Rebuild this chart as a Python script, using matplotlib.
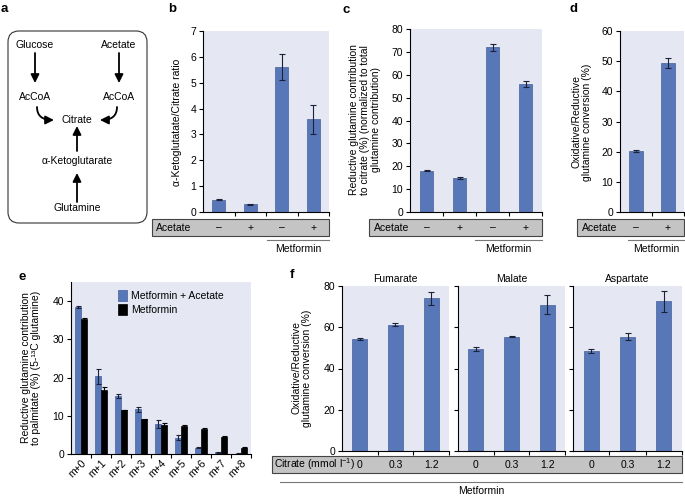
import numpy as np
import matplotlib
matplotlib.use("Agg")
import matplotlib.pyplot as plt
from matplotlib.patches import Rectangle, FancyBboxPatch
from matplotlib.transforms import blended_transform_factory

plt.rcParams['font.family'] = ['Liberation Sans', 'DejaVu Sans']
plt.rcParams['font.size'] = 7.5
plt.rcParams['mathtext.fontset'] = 'custom'
plt.rcParams['mathtext.rm'] = 'Liberation Sans'
plt.rcParams['mathtext.it'] = 'Liberation Sans:italic'

# ---- data ----
b_acetate = ['\u2013', '+', '\u2013', '+']
b_ratio = [0.47, 0.30, 5.60, 3.58]
b_err = [0.02, 0.01, 0.50, 0.57]

c_reductive = [18.0, 14.8, 72.0, 56.0]
c_err = [0.2, 0.3, 1.5, 1.3]

d_acetate = ['\u2013', '+']
d_conv = [20.3, 49.4]
d_err = [0.3, 1.6]

e_labels = ['m+0', 'm+1', 'm+2', 'm+3', 'm+4', 'm+5', 'm+6', 'm+7', 'm+8']
e_met_acetate = [38.5, 20.3, 15.2, 11.7, 7.8, 4.3, 1.7, 0.4, 0.1]
e_met_acetate_err = [0.2, 2.0, 0.5, 0.6, 1.0, 0.6, 0.2, 0.1, 0.05]
e_met = [35.2, 16.8, 11.5, 9.1, 7.7, 7.2, 6.5, 4.5, 1.7]
e_met_err = [0.5, 0.7, 0.1, 0.1, 0.3, 0.3, 0.3, 0.1, 0.1]

f_metabolites = ['Fumarate', 'Malate', 'Aspartate']
f_citrate = ['0', '0.3', '1.2']
f_fumarate = [54.3, 61.3, 74.0]
f_fumarate_err = [0.4, 0.9, 3.0]
f_malate = [49.5, 55.5, 71.0]
f_malate_err = [0.8, 0.3, 4.5]
f_aspartate = [48.5, 55.5, 72.5]
f_aspartate_err = [0.8, 1.5, 5.0]

# ---- style ----
W, H = 685, 496
bg = '#e5e8f2'
blue = '#5877b8'
blue_edge = '#44609a'
err_col = '#1c2038'
box_col = '#c4c4c4'

fig = plt.figure(figsize=(W / 100, H / 100), dpi=100)


def fx(x):
    return x / W


def fy(y):
    return 1 - y / H


def add_ax(x0, y0, x1, y1):
    return fig.add_axes([fx(x0), fy(y1), (x1 - x0) / W, (y1 - y0) / H])


def style(ax, n, ylim, yticks, labels=True):
    ax.set_facecolor(bg)
    for s in ['top', 'right']:
        ax.spines[s].set_visible(False)
    for s in ['left', 'bottom']:
        ax.spines[s].set_linewidth(0.8)
    ax.set_xlim(-0.5, n - 0.5)
    ax.set_ylim(*ylim)
    ax.set_yticks(yticks)
    if not labels:
        ax.set_yticklabels([])
    ax.set_xticks(np.arange(n) + 0.5)
    ax.set_xticklabels([])
    ax.tick_params(direction='out', length=3, width=0.8, labelsize=7.5, pad=2)


def bars(ax, vals, err, width=0.42):
    x = np.arange(len(vals))
    ax.bar(x, vals, width=width, color=blue, edgecolor=blue_edge, linewidth=0.5,
           yerr=err, capsize=2, error_kw=dict(elinewidth=0.8, ecolor=err_col, capthick=0.8))


def row_box(ax, x0, x1, y0, y1, title, labels, title_x):
    fig.add_artist(Rectangle((fx(x0), fy(y1)), (x1 - x0) / W, (y1 - y0) / H,
                             transform=fig.transFigure, facecolor=box_col,
                             edgecolor='#444444', linewidth=0.8))
    yc = fy((y0 + y1) / 2)
    fig.text(fx(title_x), yc, title, ha='left', va='center', fontsize=7.5)
    tr = blended_transform_factory(ax.transData, fig.transFigure)
    for i, lab in enumerate(labels):
        fig.text(i, yc, lab, transform=tr, ha='center', va='center', fontsize=7.5)


def metformin(x0, x1, y):
    fig.add_artist(plt.Line2D([fx(x0), fx(x1)], [fy(y), fy(y)], transform=fig.transFigure,
                              color='#777777', linewidth=0.8))
    fig.text(fx((x0 + x1) / 2), fy(y + 9), 'Metformin', ha='center', va='center', fontsize=7.5)


# ---- panel a ----
axa = add_ax(0, 0, 170, 240)
axa.set_xlim(0, 170)
axa.set_ylim(240, 0)
axa.axis('off')
axa.add_patch(FancyBboxPatch((8, 31), 139, 192, boxstyle='round,pad=0,rounding_size=11',
                             facecolor='white', edgecolor='#333333', linewidth=0.8))
for txt, x, y in [('Glucose', 35, 45), ('Acetate', 119, 45), ('AcCoA', 35, 97),
                  ('AcCoA', 119, 97), ('Citrate', 77, 120), ('\u03b1-Ketoglutarate', 77, 161),
                  ('Glutamine', 77, 208)]:
    axa.text(x, y, txt, ha='center', va='center', fontsize=7.5)
akw = dict(arrowstyle='-|>,head_length=0.5,head_width=0.25', color='black', lw=1.3,
           shrinkA=0, shrinkB=0, mutation_scale=10)
for x0, y0, x1, y1 in [(35, 53, 35, 83), (119, 53, 119, 83), (77, 151, 77, 126), (77, 202, 77, 173)]:
    axa.annotate('', xy=(x1, y1), xytext=(x0, y0), arrowprops=akw)
axa.annotate('', xy=(54, 120), xytext=(37, 107),
             arrowprops=dict(connectionstyle='angle3,angleA=90,angleB=0', **akw))
axa.annotate('', xy=(100, 120), xytext=(117, 107),
             arrowprops=dict(connectionstyle='angle3,angleA=90,angleB=0', **akw))

# ---- panel b ----
axb = add_ax(203, 31, 329, 212)
style(axb, 4, (0, 7), range(0, 8))
bars(axb, b_ratio, b_err)
fig.text(fx(177), fy(122), '\u03b1-Ketoglutatate/Citrate ratio', rotation=90,
         ha='center', va='center', fontsize=7.5)
row_box(axb, 152, 329, 219, 236, 'Acetate', b_acetate, 156)
metformin(267, 329, 240)

# ---- panel c ----
axc = add_ax(410, 29, 542, 212)
style(axc, 4, (0, 80), range(0, 90, 10))
bars(axc, c_reductive, c_err)
fig.text(fx(365), fy(120), 'Reductive glutamine contribution\nto citrate (%) (normalized to total\nglutamine contribution)',
         rotation=90, ha='center', va='center', fontsize=7.5, multialignment='center', linespacing=1.1)
row_box(axc, 369, 542, 219, 236, 'Acetate', b_acetate, 374)
metformin(475, 542, 240)

# ---- panel d ----
axd = add_ax(620, 31, 684, 212)
style(axd, 2, (0, 60), range(0, 70, 10))
bars(axd, d_conv, d_err, width=0.44)
fig.text(fx(582), fy(122), 'Oxidative/Reductive\nglutamine conversion (%)',
         rotation=90, ha='center', va='center', fontsize=7.5, multialignment='center', linespacing=1.1)
row_box(axd, 577, 684, 219, 236, 'Acetate', d_acetate, 582)
metformin(628, 684, 240)

# ---- panel e ----
axe = add_ax(71, 282, 251, 454)
style(axe, 9, (0, 45), range(0, 50, 10))
xe = np.arange(len(e_labels))
axe.bar(xe - 0.16, e_met_acetate, width=0.32, color=blue, edgecolor=blue_edge, linewidth=0.5,
        yerr=e_met_acetate_err, capsize=1.8, error_kw=dict(elinewidth=0.8, ecolor=err_col, capthick=0.8),
        label='Metformin + Acetate')
axe.bar(xe + 0.16, e_met, width=0.32, color='black', edgecolor='black', linewidth=0.5,
        yerr=e_met_err, capsize=1.8, error_kw=dict(elinewidth=0.8, ecolor='black', capthick=0.8),
        label='Metformin')
axe.set_xticks(xe, minor=True)
axe.set_xticklabels(e_labels, minor=True, rotation=45, ha='right', rotation_mode='anchor')
axe.tick_params(axis='x', which='minor', length=0, labelsize=7.5, pad=3)
axe.legend(loc='upper left', bbox_to_anchor=(0.26, 0.955), frameon=False, fontsize=7.5,
           handlelength=0.9, handleheight=1.3, handletextpad=0.4, labelspacing=0.25,
           borderpad=0, borderaxespad=0)
fig.text(fx(31), fy(368), 'Reductive glutamine contribution\nto palmitate (%) (5-\u00b9\u00b3C glutamine)',
         rotation=90, ha='center', va='center', fontsize=7.5, multialignment='center', linespacing=1.1)

# ---- panel f ----
f_vals = [f_fumarate, f_malate, f_aspartate]
f_errs = [f_fumarate_err, f_malate_err, f_aspartate_err]
f_pos = [(342, 449), (458, 565), (573, 682)]
f_axes = []
for i, (name, vals, err, (x0, x1)) in enumerate(zip(f_metabolites, f_vals, f_errs, f_pos)):
    ax = add_ax(x0, 286, x1, 451)
    style(ax, 3, (0, 80), range(0, 100, 20), labels=(i == 0))
    bars(ax, vals, err)
    ax.set_title(name, fontsize=7.5, pad=3)
    f_axes.append(ax)
fig.text(fx(302), fy(368), 'Oxidative/Reductive\nglutamine conversion (%)',
         rotation=90, ha='center', va='center', fontsize=7.5, multialignment='center', linespacing=1.1)
fig.add_artist(Rectangle((fx(272), fy(473)), (682 - 272) / W, 17 / H, transform=fig.transFigure,
                         facecolor=box_col, edgecolor='#444444', linewidth=0.8))
fig.text(fx(274), fy(464.5), 'Citrate (mmol l$^{-1}$)', ha='left', va='center', fontsize=7.5)
for ax in f_axes:
    tr = blended_transform_factory(ax.transData, fig.transFigure)
    for j, lab in enumerate(f_citrate):
        fig.text(j, fy(464.5), lab, transform=tr, ha='center', va='center', fontsize=7.5)
metformin(280, 682, 482)

# panel letters
for lab, x, y in [('a', 4, 9), ('b', 172, 9), ('c', 346, 10), ('d', 573, 9), ('e', 22, 277), ('f', 292, 275)]:
    fig.text(fx(x), fy(y), lab, ha='center', va='center', fontsize=9.5, fontweight='bold')

fig.savefig('out.png', dpi=100)
